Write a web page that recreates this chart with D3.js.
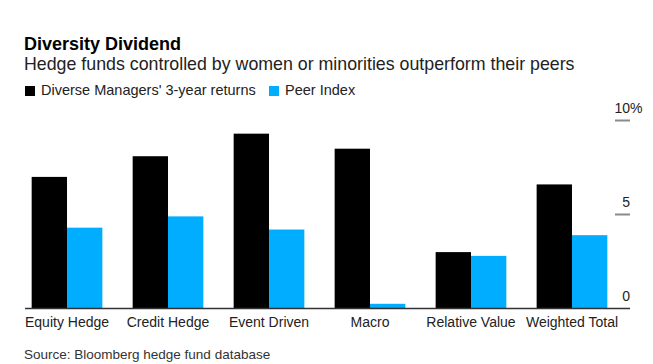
<!DOCTYPE html>
<html>
<head>
<meta charset="utf-8">
<script src="https://cdn.jsdelivr.net/npm/d3@7"></script>
<style>
  body { margin: 0; background: #fff; }
  text { font-family: 'Liberation Sans', Arial, sans-serif; }
</style>
</head>
<body>
<div id="chart"></div>
<script>
'use strict'

// data
const categories = ['Equity Hedge', 'Credit Hedge', 'Event Driven', 'Macro', 'Relative Value', 'Weighted Total']
const diverseReturns = [7.0, 8.1, 9.3, 8.5, 3.0, 6.6]
const peerIndex = [4.3, 4.9, 4.2, 0.25, 2.8, 3.9]
const seriesNames = ["Diverse Managers' 3-year returns", 'Peer Index']
const seriesColors = ['#000000', '#00adff']
const yTicks = [0, 5, 10]

const width = 653
const height = 364

const svg = d3.select('#chart')
  .append('svg')
  .attr('width', width)
  .attr('height', height)

// headline block
svg.append('text')
  .attr('x', 24).attr('y', 50)
  .style('font-size', '18px').style('font-weight', 'bold')
  .attr('fill', '#000')
  .text('Diversity Dividend')

svg.append('text')
  .attr('x', 24).attr('y', 70)
  .style('font-size', '17.8px')
  .attr('fill', '#222')
  .text('Hedge funds controlled by women or minorities outperform their peers')

// legend
const legendX = [25, 269]
seriesNames.forEach((name, i) => {
  svg.append('rect')
    .attr('x', legendX[i]).attr('y', 86)
    .attr('width', 10).attr('height', 10)
    .attr('fill', seriesColors[i])
  svg.append('text')
    .attr('x', legendX[i] + 16).attr('y', 95)
    .style('font-size', '14.5px')
    .attr('fill', '#222')
    .text(name)
})

// scales
const x0 = d3.scaleBand()
  .domain(categories)
  .range([25, 614])
  .paddingInner(0.3)
  .paddingOuter(0.066)

const x1 = d3.scaleBand()
  .domain([0, 1])
  .range([0, x0.bandwidth()])

const y = d3.scaleLinear()
  .domain([0, 10])
  .range([308.5, 120.5])

const plot = svg.append('g')

const groups = plot.selectAll('g.group')
  .data(categories)
  .enter().append('g')
  .attr('class', 'group')
  .attr('transform', d => 'translate(' + x0(d) + ',0)')

groups.selectAll('rect')
  .data((d, i) => [diverseReturns[i], peerIndex[i]])
  .enter().append('rect')
  .attr('x', (d, j) => x1(j))
  .attr('width', x1.bandwidth())
  .attr('y', d => y(d))
  .attr('height', d => y(0) - y(d))
  .attr('fill', (d, j) => seriesColors[j])

// right axis: short tick marks with labels above them
const yAxis = plot.append('g')
yAxis.selectAll('line.tick')
  .data(yTicks.filter(t => t > 0))
  .enter().append('line')
  .attr('class', 'tick')
  .attr('x1', 615).attr('x2', 630)
  .attr('y1', d => y(d)).attr('y2', d => y(d))
  .attr('stroke', '#8a8a8a')
  .attr('stroke-width', 2)

yAxis.selectAll('text.tick')
  .data(yTicks)
  .enter().append('text')
  .attr('class', 'tick')
  .attr('x', 630)
  .attr('y', d => y(d) - 8)
  .attr('text-anchor', 'end')
  .style('font-size', '14px')
  .attr('fill', '#222')
  .text(d => d)

// percent sign hangs to the right of the top label
yAxis.append('text')
  .attr('x', 630)
  .attr('y', y(10) - 8)
  .style('font-size', '14px')
  .attr('fill', '#222')
  .text('%')

// baseline
plot.append('line')
  .attr('x1', 25).attr('x2', 630)
  .attr('y1', y(0)).attr('y2', y(0))
  .attr('stroke', '#333')
  .attr('stroke-width', 1.5)

// category labels
plot.append('g').selectAll('text')
  .data(categories)
  .enter().append('text')
  .attr('x', d => x0(d) + x0.bandwidth() / 2)
  .attr('y', 327)
  .attr('text-anchor', 'middle')
  .style('font-size', '14px')
  .attr('fill', '#222')
  .text(d => d)

// source
svg.append('text')
  .attr('x', 24).attr('y', 359)
  .style('font-size', '13.5px')
  .attr('fill', '#333')
  .text('Source: Bloomberg hedge fund database')
</script>
</body>
</html>
